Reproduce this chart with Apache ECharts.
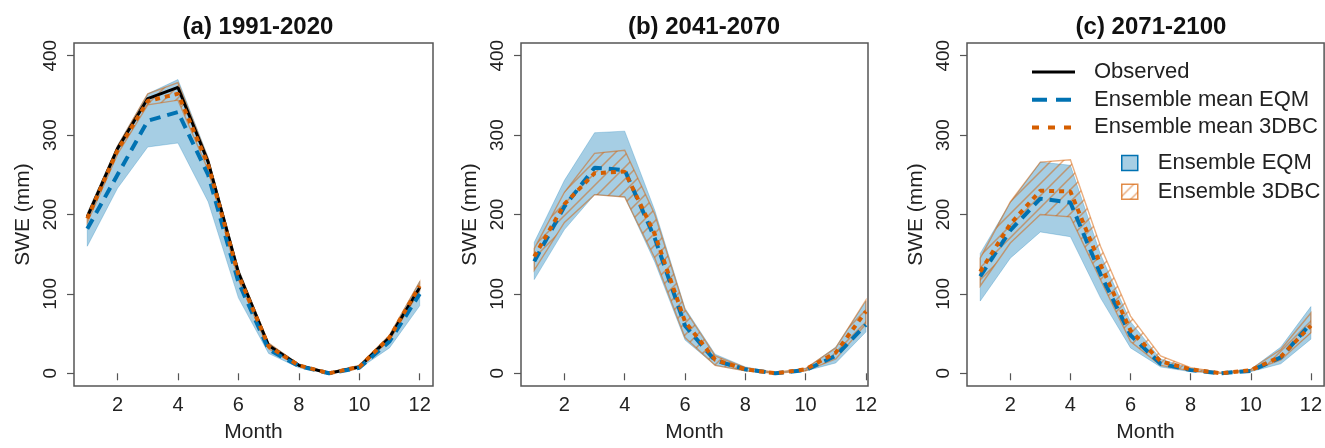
<!DOCTYPE html>
<html>
<head>
<meta charset="utf-8">
<title>SWE monthly cycle</title>
<script src="https://cdn.jsdelivr.net/npm/echarts@6/dist/echarts.min.js"></script>
<style>
html, body { margin: 0; padding: 0; background: #fff; }
#swe-chart-box { width: 1325px; height: 448px; }
</style>
</head>
<body>
<div id="swe-chart-box"></div>
<script>
// months and tick labels
var months = [1, 2, 3, 4, 5, 6, 7, 8, 9, 10, 11, 12];
var xTicks = [2, 4, 6, 8, 10, 12];
var yTicks = [0, 100, 200, 300, 400];
var panelTitles = ['(a) 1991-2020', '(b) 2041-2070', '(c) 2071-2100'];

// (a) 1991-2020
var obsA = [197, 283, 346, 360, 266, 127, 35, 10, 0, 8, 45, 108];
var eqmMeanA = [182, 250, 318, 329, 250, 115, 30, 9, 0, 7, 40, 100];
var eqmLowA = [160, 233, 285, 290, 216, 95, 25, 7, 0, 6, 32, 85];
var eqmHighA = [202, 287, 352, 370, 272, 132, 38, 12, 1, 10, 48, 116];
var dbcMeanA = [195, 281, 343, 352, 263, 124, 34, 10, 0, 8, 45, 110];
var dbcLowA = [190, 276, 338, 344, 256, 118, 31, 9, 0, 7, 42, 104];
var dbcHighA = [200, 286, 352, 366, 270, 130, 38, 11, 1, 10, 48, 115];

// (b) 2041-2070
var eqmMeanB = [141, 210, 259, 256, 170, 60, 16, 5, 0, 4, 22, 61];
var eqmLowB = [118, 181, 225, 222, 140, 42, 10, 3, 0, 3, 13, 52];
var eqmHighB = [165, 243, 303, 305, 205, 82, 24, 8, 1, 6, 33, 91];
var dbcMeanB = [147, 213, 252, 254, 175, 65, 17, 5, 0, 5, 26, 78];
var dbcLowB = [130, 190, 225, 222, 145, 45, 10, 3, 0, 3, 18, 62];
var dbcHighB = [157, 228, 277, 281, 200, 80, 22, 7, 1, 6, 32, 92];

// (c) 2071-2100
var eqmMeanC = [122, 180, 220, 215, 125, 48, 12, 4, 0, 3, 20, 63];
var eqmLowC = [91, 145, 178, 172, 95, 32, 8, 2, 0, 2, 12, 43];
var eqmHighC = [151, 215, 266, 262, 150, 65, 18, 6, 0, 5, 33, 84];
var dbcMeanC = [128, 188, 230, 229, 137, 54, 15, 5, 0, 4, 21, 60];
var dbcLowC = [110, 164, 200, 197, 118, 40, 10, 3, 0, 3, 17, 51];
var dbcHighC = [145, 216, 266, 269, 160, 72, 22, 7, 1, 5, 30, 76];

var FONT = '"Liberation Sans", Arial, sans-serif';
var BLUE = '#0072B2';
var ORANGE = '#D55E00';
var BLUE_FILL = 'rgba(0,114,178,0.35)';
var HATCH_LINE = 'rgba(213,94,0,0.5)';
var BOX = '#555';

// diagonal hatch for the 3DBC envelope
function makeHatch(size) {
    var c = document.createElement('canvas');
    c.width = size;
    c.height = size;
    var ctx = c.getContext('2d');
    ctx.strokeStyle = HATCH_LINE;
    ctx.lineWidth = 1.5;
    ctx.beginPath();
    ctx.moveTo(-1, size + 1); ctx.lineTo(size + 1, -1);
    ctx.moveTo(-1, 1); ctx.lineTo(1, -1);
    ctx.moveTo(size - 1, size + 1); ctx.lineTo(size + 1, size - 1);
    ctx.stroke();
    return { type: 'pattern', image: c, repeat: 'repeat' };
}
var hatch = makeHatch(12);

function pairs(ys) {
    return months.map(function (m, i) { return [m, ys[i]]; });
}

// envelope between lo and hi, drawn as one polygon through the axis scales
function band(name, k, lo, hi, style) {
    return {
        name: name,
        type: 'custom',
        xAxisIndex: k,
        yAxisIndex: k,
        silent: true,
        data: months.map(function (m, i) { return [m, lo[i], hi[i]]; }),
        encode: { x: 0, y: [1, 2] },
        renderItem: function (params, api) {
            if (params.dataIndex !== 0) {
                return null;
            }
            var pts = [];
            for (var i = 0; i < months.length; i++) {
                pts.push(api.coord([months[i], hi[i]]));
            }
            for (var j = months.length - 1; j >= 0; j--) {
                pts.push(api.coord([months[j], lo[j]]));
            }
            return { type: 'polygon', shape: { points: pts }, style: style };
        }
    };
}

var panels = [
    { obs: obsA, eqmMean: eqmMeanA, eqmLow: eqmLowA, eqmHigh: eqmHighA, dbcMean: dbcMeanA, dbcLow: dbcLowA, dbcHigh: dbcHighA },
    { obs: null, eqmMean: eqmMeanB, eqmLow: eqmLowB, eqmHigh: eqmHighB, dbcMean: dbcMeanB, dbcLow: dbcLowB, dbcHigh: dbcHighB },
    { obs: null, eqmMean: eqmMeanC, eqmLow: eqmLowC, eqmHigh: eqmHighC, dbcMean: dbcMeanC, dbcLow: dbcLowC, dbcHigh: dbcHighC }
];

var grids = [
    { left: 74, top: 43, width: 359, height: 345 },
    { left: 521, top: 43, width: 347, height: 345 },
    { left: 967, top: 43, width: 358, height: 345 }
];
var xMax = [12.44, 12.07, 12.44];
var titleX = [253, 699, 1146];

var option = {
    animation: false,
    backgroundColor: '#fff',
    title: [],
    grid: [],
    xAxis: [],
    yAxis: [],
    series: [],
    legend: [{
        orient: 'vertical',
        left: 1030,
        top: 61,
        padding: 0,
        itemWidth: 43,
        itemHeight: 20,
        itemGap: 5.7,
        selectedMode: false,
        itemStyle: { opacity: 0 },
        data: [
            { name: 'Observed', lineStyle: { width: 3 } },
            { name: 'Ensemble mean EQM', lineStyle: { width: 4, type: [15, 9] } },
            { name: 'Ensemble mean 3DBC', lineStyle: { width: 4, type: [7, 9] } }
        ],
        textStyle: { fontFamily: FONT, fontSize: 22, color: '#222', padding: [0, 0, 0, 14] }
    }, {
        orient: 'vertical',
        left: 1121,
        top: 152,
        padding: 0,
        itemWidth: 16,
        itemHeight: 15,
        itemGap: 6.7,
        selectedMode: false,
        data: [
            { name: 'Ensemble EQM', icon: 'rect', itemStyle: { color: BLUE_FILL, borderColor: BLUE, borderWidth: 1.5 } },
            { name: 'Ensemble 3DBC', icon: 'rect', itemStyle: { color: hatch, borderColor: 'rgba(213,94,0,0.7)', borderWidth: 1.5 } }
        ],
        textStyle: { fontFamily: FONT, fontSize: 22, color: '#222', padding: [0, 0, 0, 15] }
    }]
};

panels.forEach(function (p, k) {
    var g = grids[k];
    option.grid.push({
        left: g.left, top: g.top, width: g.width, height: g.height,
        show: true, borderColor: BOX, borderWidth: 1.5, backgroundColor: 'transparent'
    });
    option.title.push({
        text: panelTitles[k],
        left: titleX[k],
        top: 10,
        textAlign: 'center',
        textStyle: { fontFamily: FONT, fontSize: 24, fontWeight: 'bold', color: '#111' }
    });
    option.xAxis.push({
        type: 'value',
        gridIndex: k,
        min: 0.56,
        max: xMax[k],
        name: 'Month',
        nameLocation: 'middle',
        nameGap: 36,
        nameTextStyle: { fontFamily: FONT, fontSize: 21, color: '#222' },
        axisLine: { show: false },
        splitLine: { show: false },
        axisTick: { show: true, length: 7, customValues: xTicks, lineStyle: { color: BOX, width: 1.2 } },
        axisLabel: { customValues: xTicks, margin: 9, fontFamily: FONT, fontSize: 20, color: '#222' }
    });
    option.yAxis.push({
        type: 'value',
        gridIndex: k,
        min: -16,
        max: 416,
        name: 'SWE (mm)',
        nameLocation: 'middle',
        nameGap: 40,
        nameTextStyle: { fontFamily: FONT, fontSize: 21, color: '#222' },
        axisLine: { show: false },
        splitLine: { show: false },
        axisTick: { show: true, length: 7, customValues: yTicks, lineStyle: { color: BOX, width: 1.2 } },
        axisLabel: { customValues: yTicks, rotate: 90, margin: 14, fontFamily: FONT, fontSize: 19, color: '#222' }
    });

    option.series.push(band('Ensemble EQM', k, p.eqmLow, p.eqmHigh,
        { fill: BLUE_FILL, stroke: 'rgba(0,114,178,0.25)', lineWidth: 1 }));
    option.series.push(band('Ensemble 3DBC', k, p.dbcLow, p.dbcHigh,
        { fill: hatch, stroke: HATCH_LINE, lineWidth: 1.4 }));

    if (p.obs) {
        option.series.push({
            name: 'Observed', type: 'line', xAxisIndex: k, yAxisIndex: k,
            symbol: 'none', data: pairs(p.obs),
            itemStyle: { color: '#000' },
            lineStyle: { width: 3, color: '#000' }
        });
    }
    option.series.push({
        name: 'Ensemble mean EQM', type: 'line', xAxisIndex: k, yAxisIndex: k,
        symbol: 'none', data: pairs(p.eqmMean),
        itemStyle: { color: BLUE },
        lineStyle: { width: 4, color: BLUE, type: [11, 7], cap: 'butt' }
    });
    option.series.push({
        name: 'Ensemble mean 3DBC', type: 'line', xAxisIndex: k, yAxisIndex: k,
        symbol: 'none', data: pairs(p.dbcMean),
        itemStyle: { color: ORANGE },
        lineStyle: { width: 4, color: ORANGE, type: [5, 5], cap: 'butt' }
    });
});

var sweChart = echarts.init(document.getElementById('swe-chart-box'), null, { renderer: 'canvas' });
sweChart.setOption(option);
</script>
</body>
</html>
